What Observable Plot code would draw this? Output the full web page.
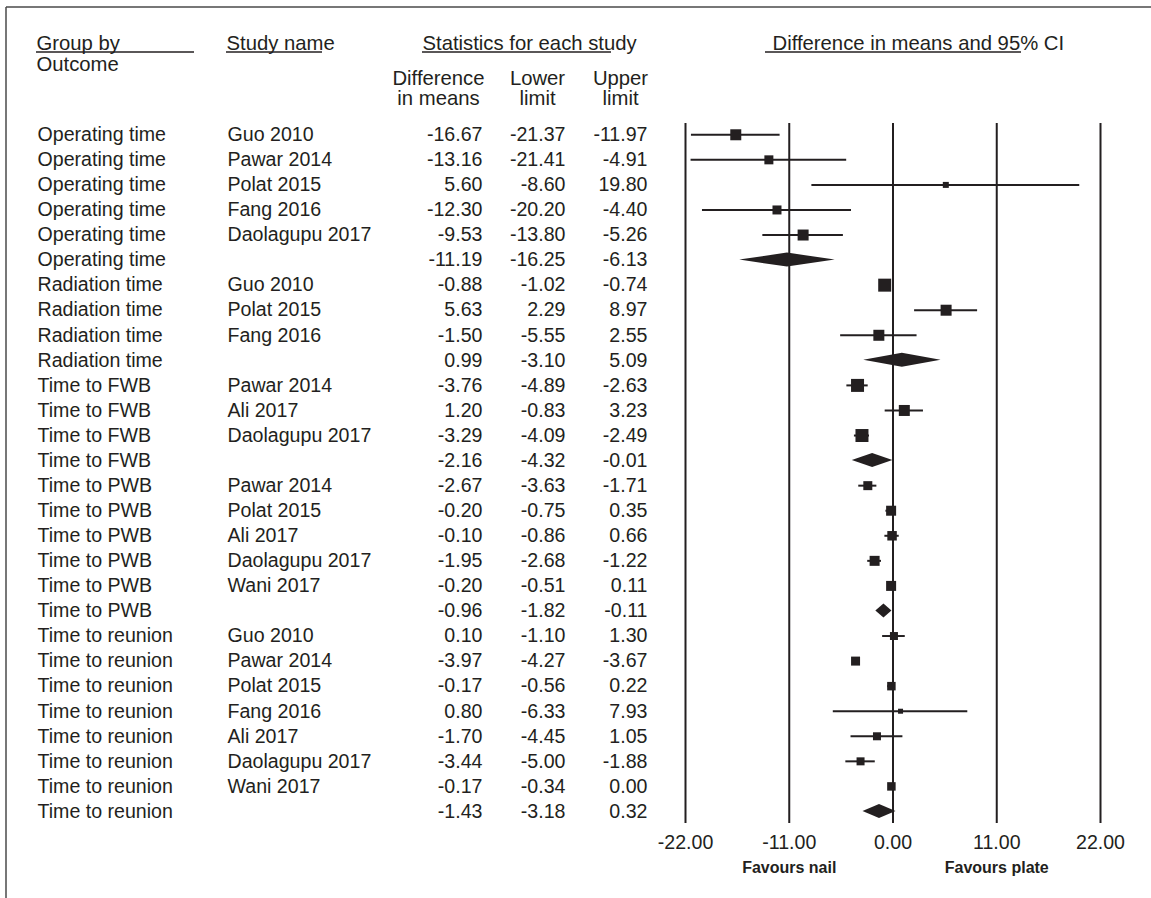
<!DOCTYPE html>
<html>
<head>
<meta charset="utf-8">
<script src="https://cdn.jsdelivr.net/npm/d3@7"></script>
<script src="https://cdn.jsdelivr.net/npm/@observablehq/plot@0.6"></script>
<style>
  html, body { margin: 0; padding: 0; background: #fff; }
  #chart { width: 1151px; height: 898px; }
</style>
</head>
<body>
<div id="chart"></div>
<script>
// ---------- data ----------
const groups = [
  "Operating time","Operating time","Operating time","Operating time","Operating time","Operating time",
  "Radiation time","Radiation time","Radiation time","Radiation time",
  "Time to FWB","Time to FWB","Time to FWB","Time to FWB",
  "Time to PWB","Time to PWB","Time to PWB","Time to PWB","Time to PWB","Time to PWB",
  "Time to reunion","Time to reunion","Time to reunion","Time to reunion","Time to reunion","Time to reunion","Time to reunion","Time to reunion"
];
const studies = [
  "Guo 2010","Pawar 2014","Polat 2015","Fang 2016","Daolagupu 2017","",
  "Guo 2010","Polat 2015","Fang 2016","",
  "Pawar 2014","Ali 2017","Daolagupu 2017","",
  "Pawar 2014","Polat 2015","Ali 2017","Daolagupu 2017","Wani 2017","",
  "Guo 2010","Pawar 2014","Polat 2015","Fang 2016","Ali 2017","Daolagupu 2017","Wani 2017",""
];
const diffs = [
  -16.67,-13.16,5.60,-12.30,-9.53,-11.19,
  -0.88,5.63,-1.50,0.99,
  -3.76,1.20,-3.29,-2.16,
  -2.67,-0.20,-0.10,-1.95,-0.20,-0.96,
  0.10,-3.97,-0.17,0.80,-1.70,-3.44,-0.17,-1.43
];
const lowers = [
  -21.37,-21.41,-8.60,-20.20,-13.80,-16.25,
  -1.02,2.29,-5.55,-3.10,
  -4.89,-0.83,-4.09,-4.32,
  -3.63,-0.75,-0.86,-2.68,-0.51,-1.82,
  -1.10,-4.27,-0.56,-6.33,-4.45,-5.00,-0.34,-3.18
];
const uppers = [
  -11.97,-4.91,19.80,-4.40,-5.26,-6.13,
  -0.74,8.97,2.55,5.09,
  -2.63,3.23,-2.49,-0.01,
  -1.71,0.35,0.66,-1.22,0.11,-0.11,
  1.30,-3.67,0.22,7.93,1.05,-1.88,0.00,0.32
];
// relative study weight; null = pooled subgroup estimate
const weights = [
  121,81,36,81,121,null,
  169,121,121,null,
  169,121,169,null,
  81,100,90,100,100,null,
  64,81,72,25,64,64,72,null
];
const tickValues = [-22, -11, 0, 11, 22];
const favourLabels = ["Favours nail", "Favours plate"];
const favourAt = [-11, 11];

// ---------- derived table ----------
const rows = groups.map((g, i) => ({
  i, group: g, study: studies[i], diff: diffs[i], lo: lowers[i], hi: uppers[i],
  w: weights[i], pooled: weights[i] == null
}));
const studyRows = rows.filter(d => !d.pooled);
const pooledRows = rows.filter(d => d.pooled);
const dh = 0.28; // diamond half-height in row units
const diamondPts = pooledRows.flatMap(d => [
  {id: d.i, y: d.i - dh, x1: d.diff, x2: d.diff},
  {id: d.i, y: d.i, x1: d.lo, x2: d.hi},
  {id: d.i, y: d.i + dh, x1: d.diff, x2: d.diff}
]);
const favours = favourLabels.map((t, k) => ({t, x: favourAt[k]}));

// ---------- layout ----------
const W = 1151, H = 898, ML = 685, MR = 51, MT = 123, MB = 75;
const INK = "#231f20";
const FS = 19.6;
const HFS = 20.3;
const fmt = v => v.toFixed(2);

function hdr(text, px, py, anchor) {
  return Plot.text([text], {
    text: d => d, frameAnchor: "top-left", dx: px - ML, dy: py - MT,
    textAnchor: anchor, lineAnchor: "middle", fontSize: HFS, fill: INK
  });
}
function col(field, px, anchor, f) {
  return Plot.text(rows, {
    y: "i", text: f ? (d => f(d[field])) : field, frameAnchor: "left",
    dx: px - ML, textAnchor: anchor, lineAnchor: "middle", fontSize: FS, fill: INK
  });
}

const chart = Plot.plot({
  width: W, height: H,
  marginLeft: ML, marginRight: MR, marginTop: MT, marginBottom: MB,
  style: {fontFamily: "'Liberation Sans', Arial, Helvetica, sans-serif", fontSize: FS + "px", color: INK, background: "#fff"},
  x: {domain: [-22, 22]},
  y: {domain: [-0.45, 27.48], range: [MT, H - MB], axis: null},
  r: {type: "sqrt", domain: [0, 169], range: [0, 13 / Math.sqrt(Math.PI)]},
  marks: [
    Plot.ruleX(tickValues, {stroke: INK, strokeWidth: 2}),
    Plot.axisX(tickValues, {tickSize: 0, tickPadding: 12, tickFormat: fmt, fontSize: FS, fill: INK, label: null}),
    Plot.text(favours, {x: "x", text: "t", frameAnchor: "bottom", dy: 49, fontWeight: "bold", fontSize: 16, fill: INK}),
    Plot.ruleY(studyRows, {y: "i", x1: "lo", x2: "hi", stroke: INK, strokeWidth: 2}),
    Plot.dot(studyRows, {y: "i", x: "diff", r: "w", symbol: "square", fill: INK, stroke: "none"}),
    Plot.areaX(diamondPts, {y: "y", x1: "x1", x2: "x2", z: "id", fill: INK, stroke: "none", curve: "linear"}),
    // table columns
    col("group", 37, "start"),
    col("study", 227, "start"),
    col("diff", 482, "end", fmt),
    col("lo", 565, "end", fmt),
    col("hi", 647, "end", fmt),
    // headers
    hdr("Group by", 36, 43, "start"),
    hdr("Outcome", 36, 63.5, "start"),
    hdr("Study name", 226, 43, "start"),
    hdr("Statistics for each study", 422, 43, "start"),
    hdr("Difference in means and 95% CI", 772, 43, "start"),
    hdr("Difference", 438, 78, "middle"),
    hdr("in means", 438, 98, "middle"),
    hdr("Lower", 537, 78, "middle"),
    hdr("limit", 537, 98, "middle"),
    hdr("Upper", 620, 78, "middle"),
    hdr("limit", 620, 98, "middle")
  ]
});

// decorations: frame border and header underlines
const svg = d3.select(chart);
const deco = svg.append("g").attr("stroke-linecap", "butt");
deco.append("line").attr("x1", 6).attr("x2", W).attr("y1", 7).attr("y2", 7).attr("stroke", "#4a4a4a").attr("stroke-width", 1.5);
deco.append("line").attr("x1", 6).attr("x2", 6).attr("y1", 7).attr("y2", H).attr("stroke", "#4a4a4a").attr("stroke-width", 1.5);
[[36, 194], [226, 322], [422, 611], [765, 1021]].forEach(([a, b]) => {
  deco.append("line").attr("x1", a).attr("x2", b).attr("y1", 52).attr("y2", 52).attr("stroke", INK).attr("stroke-width", 1.5);
});

document.getElementById("chart").appendChild(chart);
</script>
</body>
</html>
